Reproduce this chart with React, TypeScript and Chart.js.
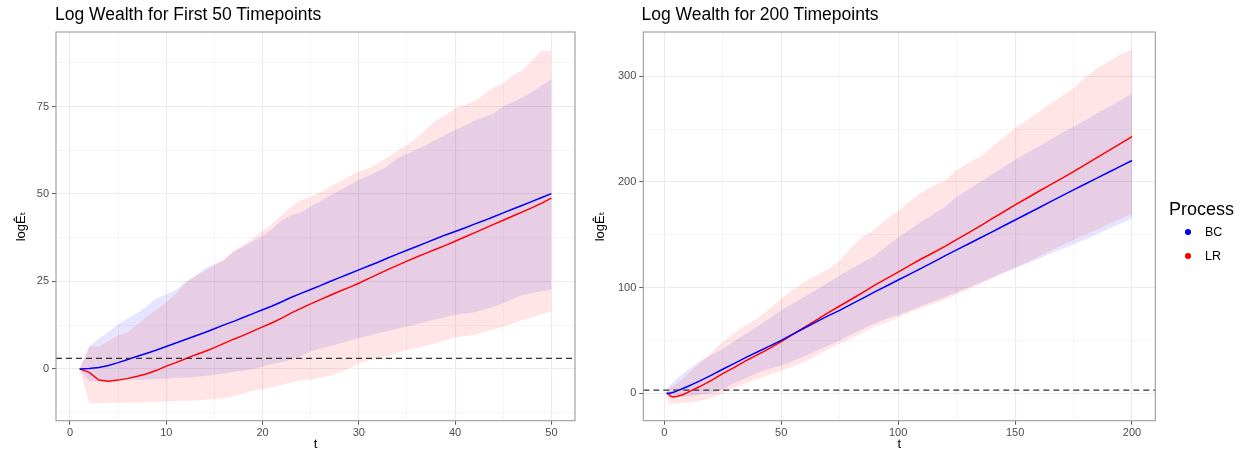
import React, { useEffect, useRef } from 'react';
import { Chart, registerables } from 'chart.js';

Chart.register(...registerables);

const FONT = '"Liberation Sans", Arial, Helvetica, "DejaVu Sans", sans-serif';

// ---------- Left panel: first 50 timepoints ----------
const leftT = [1, 2, 3, 4, 5, 6, 7, 8, 9, 10, 11, 12, 13, 14, 15, 16, 17, 18, 19, 20, 21, 22, 23, 24, 25, 26, 27, 28, 29, 30, 31, 32, 33, 34, 35, 36, 37, 38, 39, 40, 41, 42, 43, 44, 45, 46, 47, 48, 49, 50];
const leftBC = [0, 0.1, 0.4, 1.0, 1.8, 2.7, 3.6, 4.5, 5.4, 6.4, 7.4, 8.4, 9.4, 10.4, 11.5, 12.6, 13.6, 14.7, 15.8, 16.9, 18.0, 19.2, 20.5, 21.6, 22.7, 23.8, 25.0, 26.1, 27.2, 28.3, 29.4, 30.5, 31.7, 32.8, 33.9, 35.0, 36.1, 37.2, 38.3, 39.3, 40.3, 41.4, 42.4, 43.5, 44.6, 45.7, 46.8, 47.9, 49.0, 50.1];
const leftLR = [0, -1.0, -3.2, -3.5, -3.2, -2.7, -2.1, -1.4, -0.4, 0.8, 1.8, 2.9, 4.0, 5.0, 6.1, 7.3, 8.5, 9.6, 10.8, 12.0, 13.2, 14.5, 16.0, 17.3, 18.6, 19.8, 21.0, 22.2, 23.3, 24.5, 25.8, 27.1, 28.4, 29.6, 30.8, 32.0, 33.1, 34.2, 35.3, 36.5, 37.7, 38.9, 40.1, 41.3, 42.5, 43.7, 44.9, 46.1, 47.4, 48.8];
const leftBCHigh = [0, 6.5, 8.7, 10.5, 12.8, 14.5, 16.0, 18.0, 20.2, 21.3, 22.5, 25.0, 26.5, 28.8, 30.0, 31.0, 33.5, 35.0, 36.5, 38.0, 40.0, 42.5, 44.0, 44.8, 46.4, 48.0, 49.5, 51.0, 52.5, 54.0, 55.3, 56.5, 58.0, 60.2, 61.4, 62.8, 64.0, 65.5, 67.0, 68.3, 69.5, 71.0, 72.0, 73.0, 75.1, 76.3, 77.6, 79.2, 81.0, 82.8];
const leftBCLow = [0, -3.6, -3.5, -3.4, -3.3, -3.2, -3.1, -3.0, -2.9, -2.8, -2.6, -2.5, -2.3, -2.0, -1.7, -1.3, -0.9, -0.5, 0.0, 0.7, 1.3, 2.0, 2.6, 3.6, 5.0, 5.8, 6.5, 7.3, 8.0, 8.8, 9.5, 10.2, 10.8, 11.5, 12.1, 12.8, 13.5, 14.2, 14.8, 15.4, 15.8, 16.2, 16.9, 17.8, 18.8, 20.0, 21.1, 21.7, 22.2, 22.6];
const leftLRHigh = [0, 6.5, 6.4, 8.0, 9.7, 10.5, 12.8, 15.0, 17.0, 19.0, 21.5, 24.5, 26.5, 28.0, 29.5, 31.5, 33.8, 35.5, 37.3, 39.5, 41.5, 44.0, 46.4, 48.3, 49.2, 50.5, 52.0, 53.5, 55.0, 56.4, 57.3, 58.7, 60.5, 62.3, 64.0, 66.0, 68.5, 71.0, 72.5, 74.5, 75.4, 76.5, 78.5, 80.5, 81.6, 84.0, 85.4, 88.3, 91.1, 90.7];
const leftLRLow = [0, -9.8, -9.8, -9.7, -9.7, -9.6, -9.6, -9.5, -9.4, -9.3, -9.2, -9.1, -9.0, -8.8, -8.6, -8.3, -7.9, -7.0, -6.2, -5.8, -5.2, -4.6, -3.9, -3.3, -3.0, -2.5, -2.0, -1.0, 0.2, 1.6, 2.4, 3.0, 3.8, 4.6, 5.4, 6.0, 6.6, 7.4, 8.2, 9.0, 9.4, 9.7, 10.5, 11.3, 12.1, 13.0, 14.0, 14.8, 15.6, 16.4];
const leftXMajor = [0, 10, 20, 30, 40, 50];
const leftXMinor = [5, 15, 25, 35, 45];
const leftYMajor = [0, 25, 50, 75];
const leftYMinor = [-12.5, 12.5, 37.5, 62.5, 87.5];

// ---------- Right panel: 200 timepoints ----------
const rightT = [1, 2, 3, 4, 5, 6, 8, 10, 12, 15, 20, 25, 30, 35, 40, 45, 50, 55, 60, 65, 70, 75, 80, 85, 90, 95, 100, 105, 110, 115, 120, 125, 130, 135, 140, 145, 150, 155, 160, 165, 170, 175, 180, 185, 190, 195, 200];
const rightBC = [0, 0.1, 0.4, 1.0, 1.8, 2.7, 4.5, 6.4, 8.4, 11.5, 16.9, 22.7, 28.3, 33.9, 39.3, 44.6, 50.1, 56.0, 61.8, 67.5, 73.2, 78.5, 84.3, 90.0, 96.0, 101.5, 107.2, 112.8, 118.5, 124.2, 130.0, 135.7, 141.3, 147.0, 152.6, 158.3, 164.0, 169.7, 175.4, 181.1, 186.8, 192.5, 198.1, 203.7, 209.2, 214.8, 220.3];
const rightLR = [0, -1.0, -3.2, -3.5, -3.2, -2.7, -1.4, 0.8, 2.9, 6.1, 12.0, 18.6, 24.5, 30.8, 36.5, 42.5, 48.8, 55.8, 62.5, 69.3, 76.0, 82.6, 89.0, 95.5, 102.3, 108.5, 114.6, 121.0, 127.3, 133.0, 139.0, 145.5, 151.8, 158.3, 165.0, 171.6, 178.3, 184.6, 191.0, 197.3, 203.5, 209.8, 216.5, 223.0, 229.7, 236.3, 243.0];
const rightBCHigh = [0, 6.0, 9.0, 11.0, 13.0, 15.0, 18.5, 22.0, 25.0, 30.0, 36.0, 42.0, 49.5, 56.5, 63.5, 71.0, 78.5, 85.0, 91.5, 98.0, 104.5, 111.5, 118.0, 124.0, 130.5, 139.0, 147.5, 155.0, 162.5, 169.5, 176.5, 186.0, 193.0, 200.0, 207.0, 214.0, 221.0, 227.5, 233.5, 240.0, 246.5, 252.5, 258.5, 265.0, 271.0, 277.5, 284.0];
const rightBCLow = [0, -3.6, -3.5, -3.4, -3.3, -3.2, -3.1, -3.0, -2.8, -1.5, 0.0, 3.5, 9.5, 14.5, 19.5, 23.0, 26.3, 30.5, 35.0, 40.0, 45.0, 50.0, 55.5, 61.0, 66.0, 70.5, 74.0, 78.0, 82.5, 87.0, 91.0, 95.5, 100.0, 104.5, 109.5, 114.0, 118.5, 122.5, 127.0, 132.0, 136.5, 140.5, 145.5, 150.5, 155.5, 160.5, 165.5];
const rightLRHigh = [0, 5.0, 6.0, 7.5, 9.0, 10.5, 14.0, 18.0, 22.5, 28.0, 38.0, 48.5, 57.0, 64.5, 71.0, 80.0, 89.5, 98.0, 105.5, 111.5, 117.5, 125.5, 138.0, 148.5, 155.0, 165.0, 172.5, 182.0, 190.0, 196.5, 201.5, 211.0, 218.0, 224.0, 233.0, 242.0, 251.0, 258.5, 266.0, 274.0, 281.5, 289.0, 299.0, 307.5, 314.0, 321.0, 325.0];
const rightLRLow = [0, -9.8, -9.8, -9.7, -9.6, -9.5, -9.3, -9.0, -8.6, -7.6, -4.5, 0.2, 5.0, 9.8, 13.7, 17.5, 21.6, 25.5, 29.5, 35.5, 41.5, 47.0, 52.0, 57.5, 63.0, 67.0, 72.0, 76.5, 80.5, 84.5, 88.5, 93.5, 98.5, 103.5, 108.5, 113.5, 118.5, 124.0, 129.5, 135.0, 140.0, 145.0, 150.0, 155.0, 160.0, 165.0, 170.0];
const rightXMajor = [0, 50, 100, 150, 200];
const rightXMinor = [25, 75, 125, 175];
const rightYMajor = [0, 100, 200, 300];
const rightYMinor = [50, 150, 250];

const threshold = 3.0;
const seriesNames = ['BC', 'LR'];
const seriesColors = ['#0000FF', '#FF0000'];
const bandColors = ['rgba(0,0,255,0.1)', 'rgba(255,0,0,0.1)'];

interface PanelSpec {
  t: number[];
  bc: number[];
  lr: number[];
  bcLow: number[];
  bcHigh: number[];
  lrLow: number[];
  lrHigh: number[];
  xMajor: number[];
  xMinor: number[];
  yMajor: number[];
  yMinor: number[];
  xMin: number;
  xMax: number;
  yMin: number;
  yMax: number;
  canvasWidth: number;
  yAxisWidth: number;
  yTitlePad: number;
  padRight: number;
}

const hlinePlugin = {
  id: 'hline',
  afterDatasetsDraw(chart: any, _args: any, opts: any) {
    const { ctx, chartArea, scales } = chart;
    const y = scales.y.getPixelForValue(opts.value);
    ctx.save();
    ctx.beginPath();
    ctx.rect(chartArea.left, chartArea.top, chartArea.width, chartArea.height);
    ctx.clip();
    ctx.beginPath();
    ctx.strokeStyle = '#333333';
    ctx.lineWidth = 1.3;
    ctx.setLineDash([6, 4]);
    ctx.moveTo(chartArea.left, y);
    ctx.lineTo(chartArea.right, y);
    ctx.stroke();
    ctx.restore();
  },
};

const framePlugin = {
  id: 'frame',
  afterDraw(chart: any) {
    const { ctx, chartArea } = chart;
    ctx.save();
    ctx.strokeStyle = '#9a9a9a';
    ctx.lineWidth = 1.1;
    ctx.strokeRect(chartArea.left, chartArea.top, chartArea.width, chartArea.height);
    ctx.restore();
  },
};

function pts(t: number[], v: number[]) {
  return t.map((x, i) => ({ x, y: v[i] }));
}

function axisOptions(major: number[], minor: number[], min: number, max: number, isX: boolean, spec: PanelSpec) {
  const majorSet = new Set(major);
  const all = [...major, ...minor].sort((a, b) => a - b);
  return {
    type: 'linear',
    position: isX ? 'bottom' : 'left',
    min,
    max,
    afterBuildTicks: (scale: any) => {
      scale.ticks = all.map((v) => ({ value: v }));
    },
    afterFit: (scale: any) => {
      if (isX) scale.height = 452 - 420.7;
      else scale.width = spec.yAxisWidth;
    },
    grid: {
      color: (ctx: any) => (ctx.tick && majorSet.has(ctx.tick.value) ? '#EBEBEB' : '#F3F3F3'),
      lineWidth: (ctx: any) => (ctx.tick && majorSet.has(ctx.tick.value) ? 1.1 : 0.8),
      tickLength: 4,
      tickColor: (ctx: any) => (ctx.tick && majorSet.has(ctx.tick.value) ? '#555555' : 'rgba(0,0,0,0)'),
      tickWidth: 1,
      drawTicks: true,
    },
    border: { display: false },
    ticks: {
      autoSkip: false,
      maxRotation: 0,
      minRotation: 0,
      padding: isX ? 1.5 : 3,
      color: '#4D4D4D',
      font: { family: FONT, size: 11 },
      callback: (value: number) => (majorSet.has(value) ? String(value) : ''),
    },
    title: isX
      ? { display: true, text: 't', color: '#000', font: { family: FONT, size: 13 }, padding: { top: 0, bottom: 0 } }
      : { display: true, text: 'logÊₜ', color: '#000', font: { family: FONT, size: 13 }, padding: { top: spec.yTitlePad, bottom: 0 } },
  };
}

function Panel({ spec, left }: { spec: PanelSpec; left: number }) {
  const ref = useRef<HTMLCanvasElement | null>(null);
  useEffect(() => {
    if (!ref.current) return;
    const datasets: any[] = [
      { label: seriesNames[0], data: pts(spec.t, spec.bc), borderColor: seriesColors[0], borderWidth: 1.5, pointRadius: 0, fill: false, order: 0 },
      { label: seriesNames[1], data: pts(spec.t, spec.lr), borderColor: seriesColors[1], borderWidth: 1.5, pointRadius: 0, fill: false, order: 0 },
      { label: 'BC high', data: pts(spec.t, spec.bcHigh), borderColor: 'rgba(0,0,0,0)', borderWidth: 0, pointRadius: 0, backgroundColor: bandColors[0], fill: 3, order: 2 },
      { label: 'BC low', data: pts(spec.t, spec.bcLow), borderColor: 'rgba(0,0,0,0)', borderWidth: 0, pointRadius: 0, fill: false, order: 2 },
      { label: 'LR high', data: pts(spec.t, spec.lrHigh), borderColor: 'rgba(0,0,0,0)', borderWidth: 0, pointRadius: 0, backgroundColor: bandColors[1], fill: 5, order: 1 },
      { label: 'LR low', data: pts(spec.t, spec.lrLow), borderColor: 'rgba(0,0,0,0)', borderWidth: 0, pointRadius: 0, fill: false, order: 1 },
    ];
    const chart = new Chart(ref.current, {
      type: 'line',
      data: { datasets },
      options: {
        responsive: false,
        animation: false,
        events: [],
        devicePixelRatio: 1,
        layout: { padding: { top: 32, right: spec.padRight, bottom: 0, left: 0 } },
        elements: { line: { tension: 0 } },
        scales: {
          x: axisOptions(spec.xMajor, spec.xMinor, spec.xMin, spec.xMax, true, spec) as any,
          y: axisOptions(spec.yMajor, spec.yMinor, spec.yMin, spec.yMax, false, spec) as any,
        },
        plugins: {
          legend: { display: false },
          tooltip: { enabled: false },
          title: { display: false },
          hline: { value: threshold },
        } as any,
      },
      plugins: [hlinePlugin, framePlugin],
    } as any);
    return () => chart.destroy();
  }, [spec]);
  return (
    <canvas
      ref={ref}
      width={spec.canvasWidth}
      height={452}
      style={{ position: 'absolute', left, top: 0, width: spec.canvasWidth, height: 452 }}
    />
  );
}

const leftSpec: PanelSpec = {
  t: leftT, bc: leftBC, lr: leftLR, bcLow: leftBCLow, bcHigh: leftBCHigh, lrLow: leftLRLow, lrHigh: leftLRHigh,
  xMajor: leftXMajor, xMinor: leftXMinor, yMajor: leftYMajor, yMinor: leftYMinor,
  xMin: -1.45, xMax: 52.45, yMin: -14.8, yMax: 96.3,
  canvasWidth: 600, yAxisWidth: 56, yTitlePad: 14, padRight: 25,
};

const rightSpec: PanelSpec = {
  t: rightT, bc: rightBC, lr: rightLR, bcLow: rightBCLow, bcHigh: rightBCHigh, lrLow: rightLRLow, lrHigh: rightLRHigh,
  xMajor: rightXMajor, xMinor: rightXMinor, yMajor: rightYMajor, yMinor: rightYMinor,
  xMin: -8.95, xMax: 209.95, yMin: -26, yMax: 342,
  canvasWidth: 650, yAxisWidth: 53.3, yTitlePad: 2.2, padRight: 84.7,
};

const titleStyle: React.CSSProperties = {
  position: 'absolute',
  top: 6,
  fontSize: 17.5,
  lineHeight: '17px',
  color: '#000',
  whiteSpace: 'nowrap',
  fontFamily: FONT,
};

export default function App() {
  return (
    <div style={{ position: 'absolute', left: 0, top: 0, width: 1240, height: 452, background: '#fff', fontFamily: FONT, overflow: 'hidden' }}>
      <Panel spec={leftSpec} left={0} />
      <Panel spec={rightSpec} left={590} />
      <div style={{ ...titleStyle, left: 55 }}>Log Wealth for First 50 Timepoints</div>
      <div style={{ ...titleStyle, left: 641.5 }}>Log Wealth for 200 Timepoints</div>
      <div style={{ position: 'absolute', left: 1169, top: 200, fontSize: 18, lineHeight: '18px', color: '#000', whiteSpace: 'nowrap' }}>Process</div>
      {seriesNames.map((name, i) => (
        <div key={name}>
          <div style={{ position: 'absolute', left: 1188 - 2.8, top: 232 + i * 24 - 2.8, width: 5.6, height: 5.6, borderRadius: '50%', background: seriesColors[i] }} />
          <div style={{ position: 'absolute', left: 1205, top: 232 + i * 24 - 7, fontSize: 12.5, lineHeight: '14px', color: '#000', whiteSpace: 'nowrap' }}>{name}</div>
        </div>
      ))}
    </div>
  );
}
